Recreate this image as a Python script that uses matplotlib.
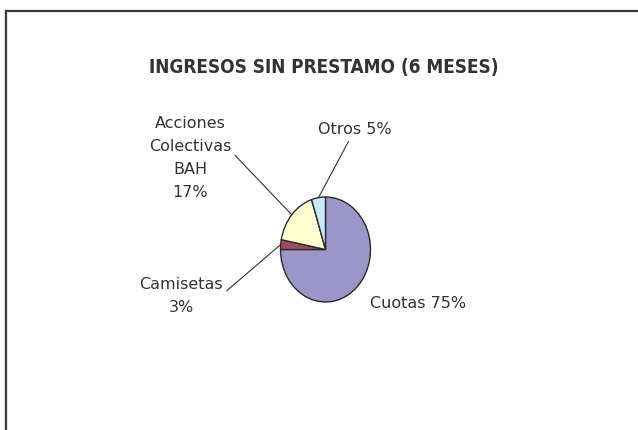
import numpy as np
import matplotlib
matplotlib.use("Agg")
import matplotlib.pyplot as plt
from matplotlib.lines import Line2D

# ---- data ----
categories = ["Cuotas", "Camisetas", "Acciones\nColectivas\nBAH", "Otros"]
values = [75, 3, 17, 5]
label_texts = ["Cuotas 75%", "Camisetas\n3%", "Acciones\nColectivas\nBAH\n17%", "Otros 5%"]
colors = ["#9C95C8", "#A04A5C", "#FFFFD0", "#C8EAF8"]
title = "INGRESOS SIN PRESTAMO (6 MESES)"

W, H = 638, 430
fig = plt.figure(figsize=(W / 100, H / 100), dpi=100)
fig.patch.set_facecolor("white")

# border (top and left visible, runs off right/bottom)
fig.add_artist(Line2D([6 / W, 1.02], [1 - 10.5 / H, 1 - 10.5 / H], transform=fig.transFigure,
                      color="#3a3a3a", lw=1.6))
fig.add_artist(Line2D([6 / W, 6 / W], [1 - 10.5 / H, -0.02], transform=fig.transFigure,
                      color="#3a3a3a", lw=1.6))

# pie axes: ellipse 90 px wide x 105 px tall, centre (325, 249.5)
cx, cy, rx, ry = 325.5, 249.5, 45, 52.5
ax = fig.add_axes([(cx - rx) / W, 1 - (cy + ry) / H, 2 * rx / W, 2 * ry / H])
wedges, _ = ax.pie(values, colors=colors, startangle=90, counterclock=False,
                   wedgeprops=dict(edgecolor="#2a2a2a", linewidth=1.0))
ax.set_aspect("auto")
ax.set_xlim(-1, 1)
ax.set_ylim(-1, 1)
ax.axis("off")

def px(x, y):
    return (x / W, 1 - y / H)

txt_color = "#333333"
fs = 11.5
# label positions (pixel, centre) and line start relpos
label_layout = [
    dict(pos=(418, 303), rel=None),
    dict(pos=(181, 296), rel=(1.0, 0.55)),
    dict(pos=(190, 158), rel=(1.0, 0.58)),
    dict(pos=(355, 130), rel=(0.44, 0.0)),
]

for w, txt, lay in zip(wedges, label_texts, label_layout):
    ang = np.deg2rad((w.theta1 + w.theta2) / 2)
    anchor = (np.cos(ang) * 1.0, np.sin(ang) * 1.0)
    if lay["rel"] is None:
        fig.text(*px(*lay["pos"]), txt, ha="center", va="center", fontsize=fs,
                 color=txt_color, linespacing=1.65)
    else:
        ax.annotate(txt, xy=anchor, xycoords="data",
                    xytext=px(*lay["pos"]), textcoords="figure fraction",
                    ha="center", va="center", fontsize=fs, color=txt_color,
                    linespacing=1.65, annotation_clip=False,
                    arrowprops=dict(arrowstyle="-", color="#333333", lw=0.8,
                                    shrinkA=1, shrinkB=0, relpos=lay["rel"]))

fig.text(*px(324, 67), title, ha="center", va="center", fontsize=13.6,
         fontweight="bold", color="#333333", fontstretch="condensed")

fig.savefig("out.png", dpi=100, facecolor="white")
